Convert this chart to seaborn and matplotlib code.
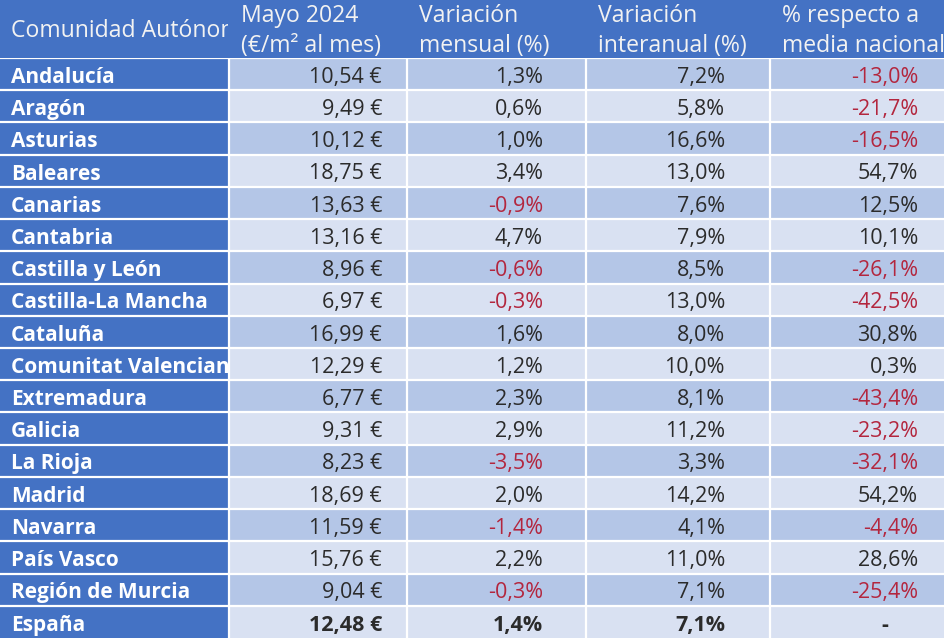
import numpy as np
import matplotlib
matplotlib.use("Agg")
import matplotlib.pyplot as plt
from matplotlib.colors import ListedColormap
from matplotlib.transforms import Bbox, TransformedBbox
import seaborn as sns

sns.set_theme(style="white")
plt.rcParams['font.family'] = ['Open Sans', 'DejaVu Sans']

# ---- data ----
regiones = ["Andalucía", "Aragón", "Asturias", "Baleares", "Canarias", "Cantabria",
            "Castilla y León", "Castilla-La Mancha", "Cataluña", "Comunitat Valenciana",
            "Extremadura", "Galicia", "La Rioja", "Madrid", "Navarra", "País Vasco",
            "Región de Murcia", "España"]
precio = [10.54, 9.49, 10.12, 18.75, 13.63, 13.16, 8.96, 6.97, 16.99, 12.29,
          6.77, 9.31, 8.23, 18.69, 11.59, 15.76, 9.04, 12.48]
var_mensual = [1.3, 0.6, 1.0, 3.4, -0.9, 4.7, -0.6, -0.3, 1.6, 1.2,
               2.3, 2.9, -3.5, 2.0, -1.4, 2.2, -0.3, 1.4]
var_interanual = [7.2, 5.8, 16.6, 13.0, 7.6, 7.9, 8.5, 13.0, 8.0, 10.0,
                  8.1, 11.2, 3.3, 14.2, 4.1, 11.0, 7.1, 7.1]
pct_media = [-13.0, -21.7, -16.5, 54.7, 12.5, 10.1, -26.1, -42.5, 30.8, 0.3,
             -43.4, -23.2, -32.1, 54.2, -4.4, 28.6, -25.4, None]
cabeceras = ["Comunidad Autónoma", "Mayo 2024\n(€/m² al mes)", "Variación\nmensual (%)",
             "Variación\ninteranual (%)", "% respecto a\nmedia nacional"]

# ---- layout (pixels) ----
col_w = [229, 178, 179, 184, 175]
edges = np.cumsum([0] + col_w)
text_right = [None, 382, 543, 725, 918]
header_h = 58
body_h = 580
H = 644
W = sum(col_w)

BLUE = "#4472C4"
DARK = "#B4C6E7"
LIGHT = "#D9E1F2"
TXT = "#2B2B2B"
RED = "#B3263E"

fig = plt.figure(figsize=(9.45, 6.44), dpi=100)

# header band
ax_h = fig.add_axes([0, (H - header_h) / H, 1, header_h / H])
sns.heatmap(np.zeros((1, W)), cmap=ListedColormap([BLUE]), cbar=False,
            xticklabels=False, yticklabels=False, ax=ax_h)
ax_h.axis("off")

# body bands: 0 = first column blue, 1 = dark row, 2 = light row
n = len(regiones)
col_idx = np.repeat(np.arange(len(col_w)), col_w)
grid = np.where(col_idx[None, :] == 0, 0,
                np.where((np.arange(n) % 2 == 0)[:, None], 1, 2))
ax_b = fig.add_axes([0, (H - header_h - body_h) / H, 1, body_h / H])
sns.heatmap(grid, cmap=ListedColormap([BLUE, DARK, LIGHT]), vmin=0, vmax=2,
            cbar=False, xticklabels=False, yticklabels=False, ax=ax_b)
ax_b.axis("off")

# white grid lines
for r in range(n):
    ax_b.axhline(r, color="white", lw=1.6)
for x in edges[1:-1]:
    ax_b.axvline(x, color="white", lw=1.6)

clip0_b = TransformedBbox(Bbox([[0, 0], [edges[1] - 1, n]]), ax_b.transData)
clip0_h = TransformedBbox(Bbox([[0, 0], [edges[1] - 1, 1]]), ax_h.transData)

# header text
for j, lab in enumerate(cabeceras):
    x = 11 if j == 0 else edges[j] + 12
    lines = lab.split("\n")
    ys = [0.53] if len(lines) == 1 else [0.27, 0.79]
    for line, y in zip(lines, ys):
        t = ax_h.text(x, y, line, color="#F2F2F2", fontsize=16.6,
                      ha="left", va="center")
        if j == 0:
            t.set_clip_box(clip0_h)
            t.set_clip_on(True)


def fmt(v, suffix):
    return f"{v:.1f}".replace(".", ",") + suffix


# body text
for i in range(n):
    y = i + 0.6
    bold = "bold" if regiones[i] == "España" else "normal"
    t = ax_b.text(11, y, regiones[i], color="white", fontsize=15,
                  fontweight="bold", ha="left", va="center")
    t.set_clip_box(clip0_b)
    t.set_clip_on(True)

    ax_b.text(text_right[1], y, f"{precio[i]:.2f}".replace(".", ",") + " €",
              color=TXT, fontsize=15.5, fontweight=bold, ha="right", va="center")
    for j, vals in zip([2, 3, 4], [var_mensual, var_interanual, pct_media]):
        v = vals[i]
        if v is None:
            ax_b.text(885, y, "-", color=TXT, fontsize=15.5, fontweight="bold",
                      ha="center", va="center")
            continue
        ax_b.text(text_right[j], y, fmt(v, "%"), color=RED if v < 0 else TXT,
                  fontsize=15.5, fontweight=bold, ha="right", va="center")

fig.savefig("out.png", dpi=100, facecolor="white")
